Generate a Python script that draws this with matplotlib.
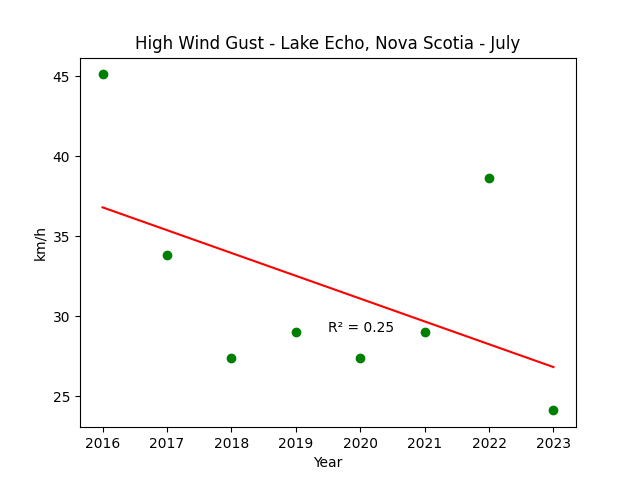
import matplotlib
matplotlib.use("Agg")
import matplotlib.pyplot as plt
import numpy as np

# July high wind gust per year
years = [2016, 2017, 2018, 2019, 2020, 2021, 2022, 2023]
gusts = [45.1, 33.8, 27.4, 29.0, 27.4, 29.0, 38.6, 24.1]

x = np.array(years)
y = np.array(gusts)

# Linear trend and R squared
slope, intercept = np.polyfit(x, y, 1)
trend = slope * x + intercept
r2 = 1 - np.sum((y - trend) ** 2) / np.sum((y - y.mean()) ** 2)

fig, ax = plt.subplots(figsize=(6.4, 4.8), dpi=100)
ax.scatter(x, y, color="green")
ax.plot(x, trend, color="red")
ax.text(2019.5, 29, f"R\u00b2 = {r2:.2f}")

ax.set_title("High Wind Gust - Lake Echo, Nova Scotia - July")
ax.set_xlabel("Year")
ax.set_ylabel("km/h")

fig.savefig("out.png")
